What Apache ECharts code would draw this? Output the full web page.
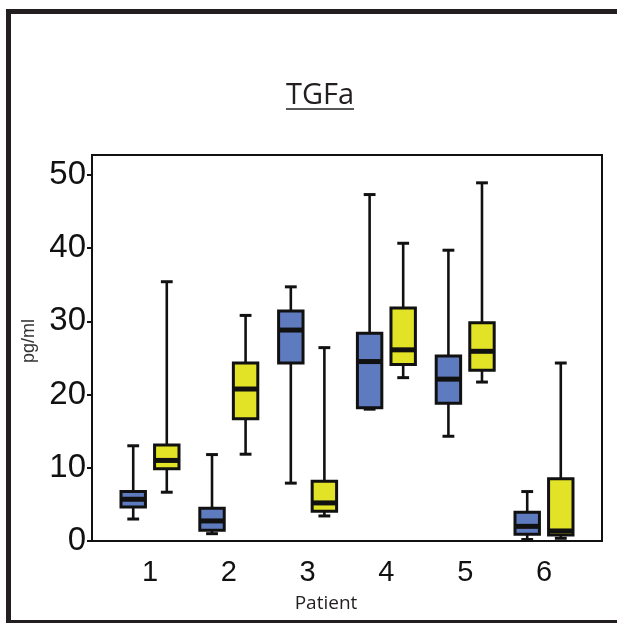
<!DOCTYPE html>
<html>
<head>
<meta charset="utf-8">
<script src="https://cdn.jsdelivr.net/npm/echarts@6/dist/echarts.min.js"></script>
<style>
html, body { margin: 0; padding: 0; background: #fff; }
#chart { width: 617px; height: 623px; }
</style>
</head>
<body>
<div id="chart"></div>
<script>
// patients on the x axis
var patients = ['1', '2', '3', '4', '5', '6'];
// [min, q1, median, q3, max] per patient
var blueBoxes = [
    [3.0, 4.65, 5.7, 6.75, 13.0],
    [1.0, 1.46, 2.74, 4.47, 11.8],
    [7.9, 24.3, 28.8, 31.4, 34.7],
    [18.0, 18.2, 24.5, 28.35, 47.3],
    [14.3, 18.8, 22.1, 25.25, 39.7],
    [0.2, 0.92, 2.0, 3.92, 6.75]
];
var yellowBoxes = [
    [6.66, 9.85, 11.0, 13.1, 35.4],
    [11.85, 16.7, 20.75, 24.3, 30.8],
    [3.42, 4.06, 5.2, 8.16, 26.4],
    [22.3, 24.1, 26.1, 31.8, 40.65],
    [21.7, 23.3, 25.9, 29.8, 48.9],
    [0.37, 0.82, 1.37, 8.5, 24.3]
];
var yTicks = [0, 10, 20, 30, 40, 50];

var chart = echarts.init(document.getElementById('chart'));

function toRows(boxes) {
    return boxes.map(function (b, i) { return [i].concat(b); });
}

// draws one box with whiskers, caps and a thick median
function boxRenderer(side, color) {
    return function (params, api) {
        var band = api.size([1, 0])[0];
        var c = api.coord([api.value(0), 0]);
        var cx = c[0] + side * band * 0.213;
        var w = band * 0.31;
        var capW = band * 0.15;
        var yMin = api.coord([api.value(0), api.value(1)])[1];
        var yQ1 = api.coord([api.value(0), api.value(2)])[1];
        var yMed = api.coord([api.value(0), api.value(3)])[1];
        var yQ3 = api.coord([api.value(0), api.value(4)])[1];
        var yMax = api.coord([api.value(0), api.value(5)])[1];
        var line = { stroke: '#111', lineWidth: 2.6 };
        return {
            type: 'group',
            children: [
                { type: 'line', shape: { x1: cx, y1: yMax, x2: cx, y2: yQ3 }, style: line },
                { type: 'line', shape: { x1: cx, y1: yQ1, x2: cx, y2: yMin }, style: line },
                { type: 'line', shape: { x1: cx - capW / 2, y1: yMax, x2: cx + capW / 2, y2: yMax }, style: { stroke: '#111', lineWidth: 3 } },
                { type: 'line', shape: { x1: cx - capW / 2, y1: yMin, x2: cx + capW / 2, y2: yMin }, style: { stroke: '#111', lineWidth: 3 } },
                { type: 'rect', shape: { x: cx - w / 2, y: yQ3, width: w, height: yQ1 - yQ3 }, style: { fill: color, stroke: '#111', lineWidth: 3 } },
                { type: 'line', shape: { x1: cx - w / 2, y1: yMed, x2: cx + w / 2, y2: yMed }, style: { stroke: '#111', lineWidth: 5 } }
            ]
        };
    };
}

chart.setOption({
    animation: false,
    grid: [
        // frame of the plot
        { left: 92, top: 155, width: 510, height: 386, show: true, borderColor: '#111', borderWidth: 2 },
        // boxes
        { left: 110.6, top: 155, width: 472.8, height: 386 }
    ],
    xAxis: [
        { gridIndex: 0, type: 'value', min: 0, max: 1, show: false },
        {
            gridIndex: 1,
            type: 'category',
            data: patients,
            axisLine: { show: false },
            axisTick: { alignWithLabel: true, length: 5, lineStyle: { color: '#111', width: 2 } },
            axisLabel: { fontFamily: 'Liberation Sans', fontSize: 29, color: '#111', margin: 17 }
        }
    ],
    yAxis: [
        {
            gridIndex: 0,
            type: 'value',
            min: 0,
            max: 52.7,
            name: 'pg/ml',
            nameLocation: 'middle',
            nameGap: 52,
            nameTextStyle: { fontFamily: 'Liberation Sans', fontSize: 18, color: '#333', padding: [0, 0, 0, 14] },
            splitLine: { show: false },
            axisLine: { show: true, lineStyle: { color: '#111', width: 2 } },
            axisTick: { show: true, length: 5, customValues: yTicks, lineStyle: { color: '#111', width: 2 } },
            axisLabel: {
                customValues: yTicks,
                fontFamily: 'Liberation Sans',
                fontSize: 33,
                color: '#111',
                margin: 6,
                padding: [12, 0, 0, 0]
            }
        },
        { gridIndex: 1, type: 'value', min: 0, max: 52.7, show: false }
    ],
    series: [
        {
            type: 'custom',
            xAxisIndex: 1,
            yAxisIndex: 1,
            renderItem: boxRenderer(-1, '#5f7bbf'),
            encode: { x: 0, y: [1, 2, 3, 4, 5] },
            data: toRows(blueBoxes)
        },
        {
            type: 'custom',
            xAxisIndex: 1,
            yAxisIndex: 1,
            renderItem: boxRenderer(1, '#e2e226'),
            encode: { x: 0, y: [1, 2, 3, 4, 5] },
            data: toRows(yellowBoxes)
        }
    ],
    graphic: [
        // outer panel border (no right side)
        { type: 'polyline', shape: { points: [[8.5, 625], [8.5, 11.5], [620, 11.5]] }, style: { stroke: '#231f20', lineWidth: 5, fill: null } },
        { type: 'line', shape: { x1: 6, y1: 622.5, x2: 620, y2: 622.5 }, style: { stroke: '#231f20', lineWidth: 5 } },
        { type: 'text', x: 320, y: 96, style: { text: 'TGFa', fontFamily: 'Open Sans', fontSize: 29, fill: '#231f20', textAlign: 'center', textVerticalAlign: 'middle' } },
        { type: 'line', shape: { x1: 286, y1: 109, x2: 354, y2: 109 }, style: { stroke: '#231f20', lineWidth: 1.5 } },
        { type: 'text', x: 326, y: 604, style: { text: 'Patient', fontFamily: 'Open Sans', fontSize: 19, fill: '#231f20', textAlign: 'center', textVerticalAlign: 'middle' } }
    ]
});
</script>
</body>
</html>
